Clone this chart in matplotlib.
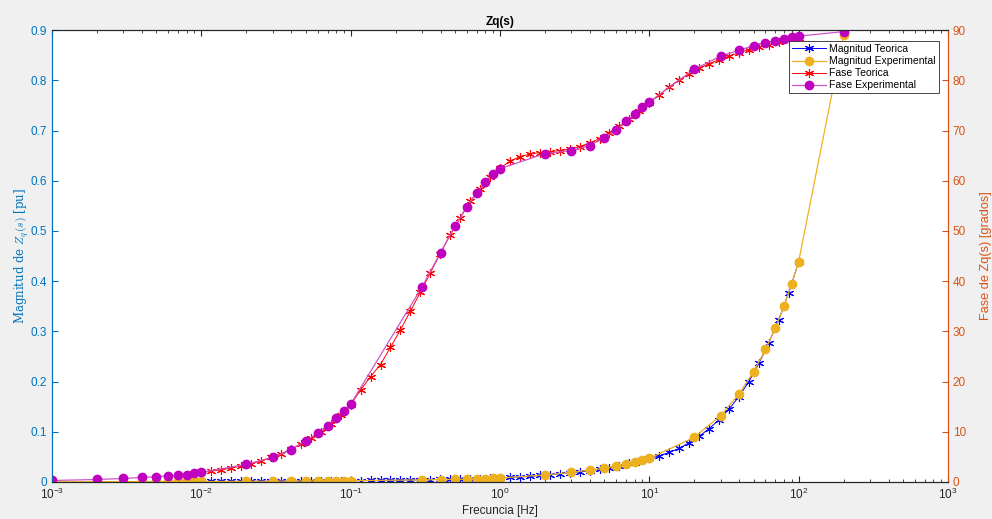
import numpy as np
import matplotlib
matplotlib.use("Agg")
import matplotlib.pyplot as plt
from matplotlib.ticker import LogLocator, NullFormatter, MultipleLocator

# theoretical curve, 61 log-spaced frequencies 0.01 .. 100 Hz
f_teo = np.logspace(-2, 2, 61)
mag_teo = [0.0010, 0.0011, 0.0011, 0.0012, 0.0013, 0.0014, 0.0015, 0.0016, 0.0017, 0.0018,
           0.0019, 0.0020, 0.0021, 0.0022, 0.0024, 0.0025, 0.0027, 0.0030, 0.0032, 0.0034,
           0.0037, 0.0040, 0.0043, 0.0047, 0.0051, 0.0055, 0.0060, 0.0064, 0.0069, 0.0074,
           0.0080, 0.0090, 0.0100, 0.0110, 0.0130, 0.0145, 0.0165, 0.0185, 0.0200, 0.0225,
           0.0250, 0.0280, 0.0325, 0.0370, 0.0420, 0.0470, 0.0520, 0.0590, 0.0670, 0.0780,
           0.0910, 0.1060, 0.1240, 0.1450, 0.1700, 0.2000, 0.2360, 0.2770, 0.3230, 0.3770,
           0.4380]
fase_teo = [1.9, 2.15, 2.4, 2.8, 3.2, 3.6, 4.2, 4.9, 5.6, 6.5,
            7.6, 8.7, 10.0, 11.5, 13.3, 15.4, 18.3, 21.0, 23.4, 26.8,
            30.3, 34.0, 37.8, 41.6, 45.5, 49.2, 52.6, 55.9, 58.3, 60.7,
            62.5, 63.9, 64.8, 65.3, 65.6, 65.8, 66.0, 66.3, 66.8, 67.5,
            68.4, 69.6, 70.9, 72.3, 73.8, 75.5, 77.1, 78.7, 80.1, 81.3,
            82.4, 83.3, 84.1, 84.8, 85.5, 86.1, 86.6, 87.1, 87.6, 88.0,
            88.4]

# measured points
f_exp = [0.001, 0.002, 0.003, 0.004, 0.005, 0.006, 0.007, 0.008, 0.009,
         0.01, 0.02, 0.03, 0.04, 0.05, 0.06, 0.07, 0.08, 0.09,
         0.1, 0.3, 0.4, 0.5, 0.6, 0.7, 0.8, 0.9,
         1, 2, 3, 4, 5, 6, 7, 8, 9,
         10, 20, 30, 40, 50, 60, 70, 80, 90,
         100, 200]
mag_exp = [0.0004, 0.0006, 0.0007, 0.0008, 0.0009, 0.0009, 0.0010, 0.0010, 0.0010,
           0.0010, 0.0014, 0.0017, 0.0019, 0.0021, 0.0023, 0.0024, 0.0025, 0.0026,
           0.0027, 0.0042, 0.0049, 0.0053, 0.0058, 0.0063, 0.0068, 0.0073,
           0.008, 0.014, 0.019, 0.024, 0.027, 0.032, 0.036, 0.040, 0.044,
           0.047, 0.089, 0.132, 0.176, 0.220, 0.264, 0.307, 0.351, 0.395,
           0.439, 0.89]
fase_exp = [0.3, 0.5, 0.7, 0.9, 1.05, 1.2, 1.3, 1.45, 1.7,
            1.9, 3.5, 4.9, 6.4, 8.2, 9.7, 11.2, 12.7, 14.1,
            15.5, 38.8, 45.7, 51.0, 54.8, 57.6, 59.7, 61.3,
            62.4, 65.4, 66.0, 67.0, 68.6, 70.1, 71.9, 73.2, 74.6,
            75.7, 82.2, 84.8, 86.0, 86.9, 87.5, 87.9, 88.2, 88.7,
            88.8, 89.7]

c_left = '#0072BD'
c_right = '#D95319'
c_yel = '#EDB120'
c_pur = '#BF00BF'
c_axis = '#262626'
asterisk = (6, 2, 0)

plt.rcParams['font.family'] = ['Liberation Sans', 'DejaVu Sans']
plt.rcParams['mathtext.fontset'] = 'cm'

fig = plt.figure(figsize=(9.92, 5.19), dpi=100, facecolor='#f0f0f0')
ax = fig.add_axes([0.0524, 0.0713, 0.9032, 0.8707])
ax2 = ax.twinx()

h1, = ax.plot(f_teo, mag_teo, color='b', lw=0.7, marker=asterisk, ms=6.5, mew=0.8,
              label='Magnitud Teorica')
h2, = ax.plot(f_exp, mag_exp, color=c_yel, lw=0.9, marker='o', ms=6,
              label='Magnitud Experimental')
h3, = ax2.plot(f_teo, fase_teo, color='r', lw=0.7, marker=asterisk, ms=6.5, mew=0.8,
               label='Fase Teorica')
h4, = ax2.plot(f_exp, fase_exp, color='#cc55cc', lw=0.9, marker='o', ms=6,
               markerfacecolor=c_pur, markeredgecolor=c_pur,
               label='Fase Experimental')

ax.set_xscale('log')
ax.set_xlim(1e-3, 1e3)
ax.set_ylim(0, 0.9)
ax2.set_ylim(0, 90)
ax.yaxis.set_major_locator(MultipleLocator(0.1))
ax2.yaxis.set_major_locator(MultipleLocator(10))
ax.xaxis.set_major_locator(LogLocator(base=10, numticks=10))
ax.xaxis.set_minor_locator(LogLocator(base=10, subs=np.arange(2, 10), numticks=20))
ax.xaxis.set_minor_formatter(NullFormatter())
ax.yaxis.set_major_formatter(plt.FuncFormatter(lambda v, p: '0' if v == 0 else f'{v:.1f}'))

ax.tick_params(axis='x', which='both', direction='in', top=True, colors=c_axis, labelsize=8.5)
ax.tick_params(axis='x', which='major', length=4)
ax.tick_params(axis='x', which='minor', length=2)
ax.tick_params(axis='y', direction='in', length=4, colors=c_left, labelsize=8.5)
ax2.tick_params(axis='y', direction='in', length=4, colors=c_right, labelsize=8.5)

for a in (ax, ax2):
    a.spines['top'].set_color(c_axis)
    a.spines['bottom'].set_color(c_axis)
    a.spines['left'].set_color(c_left)
    a.spines['right'].set_color(c_right)
    for s in a.spines.values():
        s.set_linewidth(0.8)

ax.set_title('Zq(s)', fontsize=8.5, fontweight='bold', pad=4)
ax.set_xlabel('Frecuncia [Hz]', fontsize=8.5, color=c_axis, labelpad=2)
ax.set_ylabel('Magnitud de $Z_q(s)$ [pu]', fontsize=8.5, color=c_left,
              family='DejaVu Serif', labelpad=0)
ax2.set_ylabel('Fase de Zq(s) [grados]', fontsize=9.2, color=c_right, labelpad=10)

leg = ax2.legend(handles=[h1, h2, h3, h4], loc='upper right',
                 bbox_to_anchor=(0.99, 0.976), fontsize=7.5, frameon=True,
                 fancybox=False, framealpha=1, edgecolor=c_axis,
                 borderpad=0.3, labelspacing=0.2, handlelength=3.3,
                 handletextpad=0.3, borderaxespad=0)
leg.get_frame().set_linewidth(0.6)

fig.savefig('out.png', dpi=100, facecolor=fig.get_facecolor())
